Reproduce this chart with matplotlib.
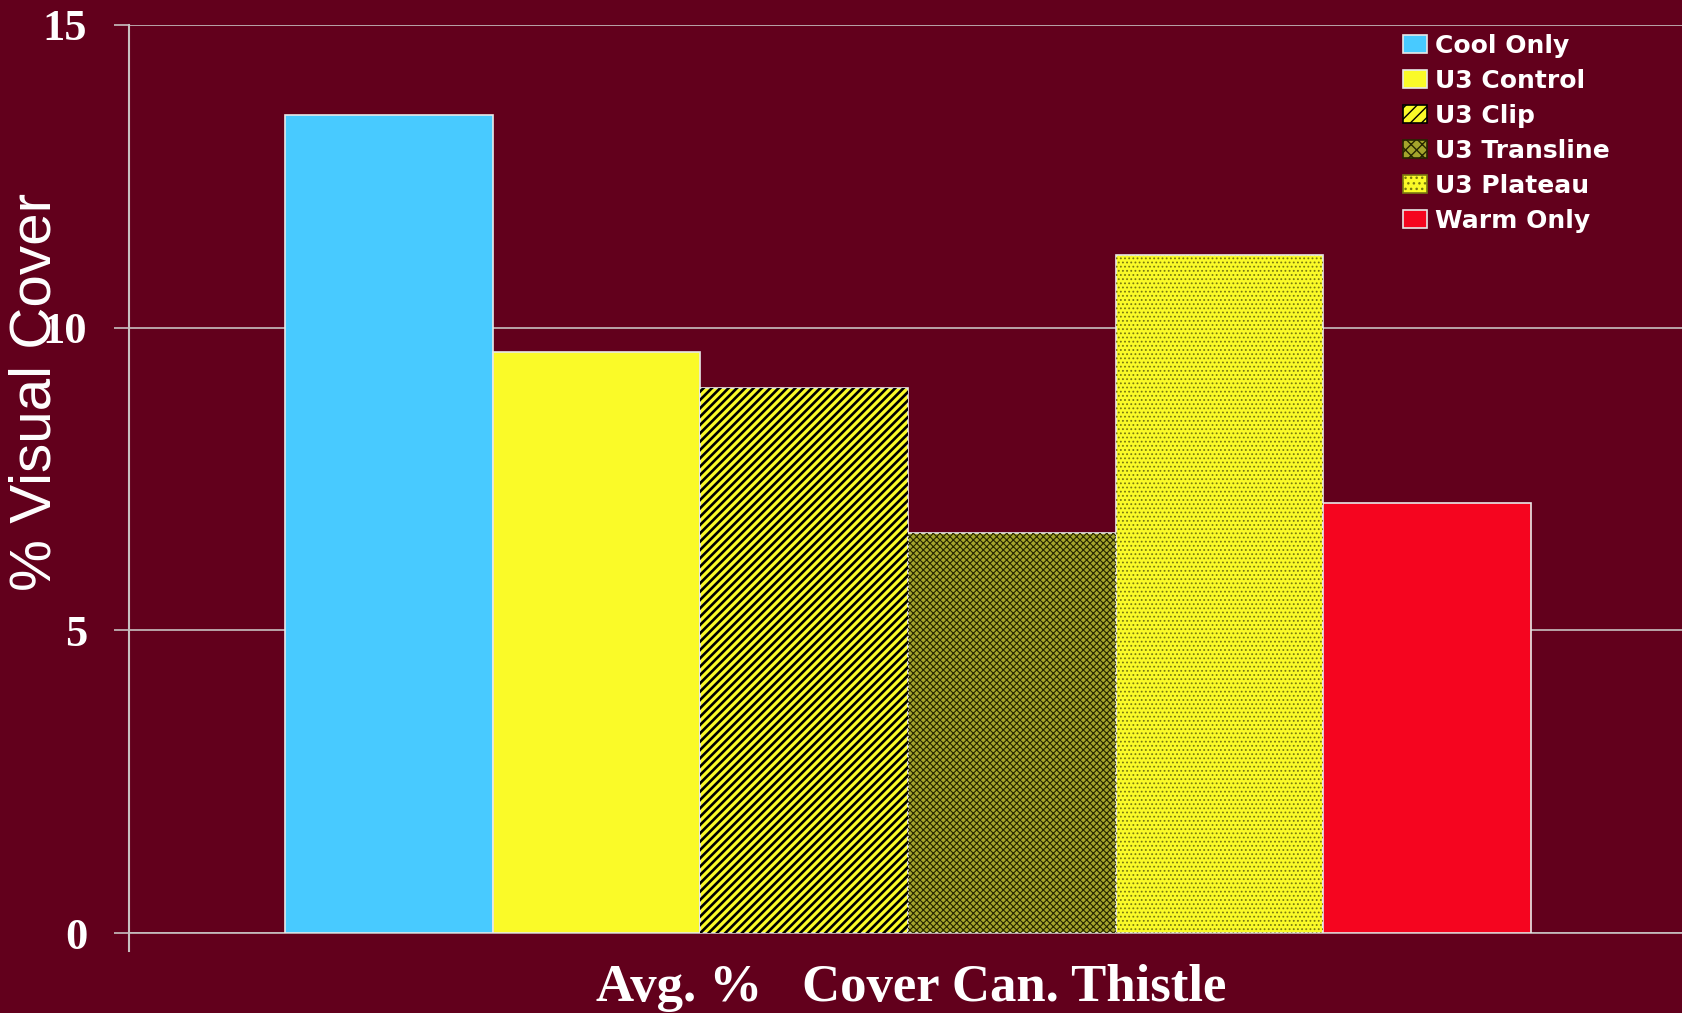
import matplotlib.pyplot as plt

categories = ["Cool Only", "U3 Control", "U3 Clip", "U3 Transline", "U3 Plateau", "Warm Only"]
values = [13.5, 9.6, 9.0, 6.6, 11.2, 7.1]
face_colors = ["#48CAFF", "#FAFA28", "#FAFA28", "#A4A42C", "#FAFA28", "#F5051F"]
hatches = [None, None, "////", "xxxxx", "....", None]
hatch_colors = [None, None, "black", "#262600", "#7a7a10", None]
hatch_widths = [None, None, 1.9, 0.8, 0.8, None]
yticks = [0, 5, 10, 15]

BG = "#62001C"
GRID = "#C8C0C0"

fig = plt.figure(figsize=(16.82, 10.13), dpi=100)
fig.patch.set_facecolor(BG)
ax = fig.add_axes([0.0767, 0.0787, 0.9233, 0.897])
ax.set_facecolor(BG)

for i, (v, fc) in enumerate(zip(values, face_colors)):
    ax.bar(i, v, width=1.0, color=fc, edgecolor="#E8E8E8", linewidth=1.2,
           label=categories[i], zorder=3)
    if hatches[i]:
        plt.rcParams["hatch.linewidth"] = hatch_widths[i]
        hb = ax.bar(i, v, width=1.0, facecolor="none", edgecolor=hatch_colors[i],
                    hatch=hatches[i], linewidth=0, zorder=4)
        for p in hb:
            if hasattr(p, "set_hatch_linewidth"):
                p.set_hatch_linewidth(hatch_widths[i])

ax.set_xlim(-1.253, 6.229)
ax.set_ylim(0, 15)
ax.set_yticks(yticks)
ax.set_yticklabels([str(t) for t in yticks], fontfamily="Liberation Serif",
                   fontweight="bold", fontsize=32, color="white")
ax.set_xticks([])
ax.tick_params(axis="y", length=11, width=1.2, color=GRID, pad=19)

ax.yaxis.grid(True, color=GRID, linewidth=1.2, zorder=0)
ax.set_axisbelow(True)
for s in ["top", "right"]:
    ax.spines[s].set_visible(False)
ax.spines["left"].set_color(GRID)
ax.spines["left"].set_linewidth(1.5)
ax.spines["left"].set_bounds(-0.3, 15)
ax.spines["bottom"].set_color(GRID)
ax.spines["bottom"].set_linewidth(1.2)

fig.text(0.021, 0.613, "% Visual Cover", rotation=90, ha="center", va="center",
         fontfamily="Liberation Sans", fontsize=42, color="white")
fig.text(0.5416, 0.012, "Avg. %   Cover Can. Thistle", ha="center", va="baseline",
         fontfamily="Liberation Serif", fontweight="bold", fontsize=38, color="white")

plt.rcParams["hatch.linewidth"] = 1.0
leg = ax.legend(loc="upper right", bbox_to_anchor=(0.965, 1.009), frameon=False,
                prop={"family": "DejaVu Sans", "weight": "bold", "size": 18},
                labelcolor="white", handlelength=0.95, handleheight=0.76,
                handletextpad=0.35, labelspacing=0.44, borderaxespad=0.3)
for h, hc, ht in zip(leg.legend_handles, hatch_colors, hatches):
    if ht:
        h.set_hatch(ht[:3])
        h.set_edgecolor(hc)
    else:
        h.set_edgecolor("#E8E8E8")

fig.savefig("out.png", dpi=100, facecolor=BG)
